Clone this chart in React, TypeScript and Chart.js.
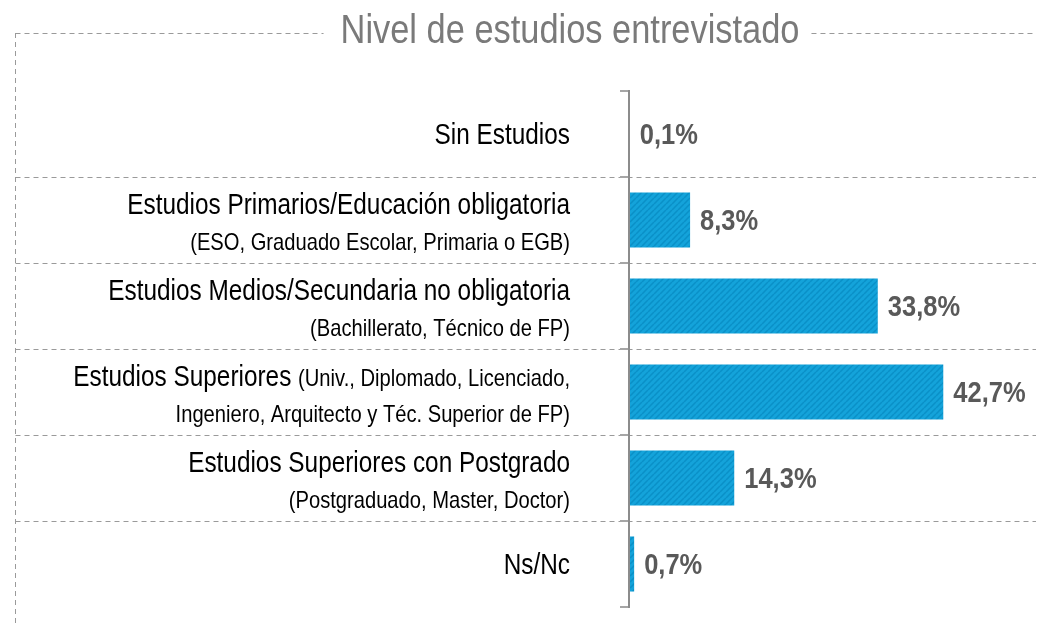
import React, { useEffect, useRef } from "react";
import { Chart, registerables } from "chart.js";

Chart.register(...registerables);

const categories = [
  "Sin Estudios",
  "Estudios Primarios/Educación obligatoria",
  "Estudios Medios/Secundaria no obligatoria",
  "Estudios Superiores",
  "Estudios Superiores con Postgrado",
  "Ns/Nc",
];
// label lines: each line is a list of [text, big?] runs
const labelLines: [string, boolean][][][] = [
  [[["Sin Estudios", true]]],
  [[["Estudios Primarios/Educación obligatoria", true]], [["(ESO, Graduado Escolar, Primaria o EGB)", false]]],
  [[["Estudios Medios/Secundaria no obligatoria", true]], [["(Bachillerato, Técnico de FP)", false]]],
  [
    [["Estudios Superiores ", true], ["(Univ., Diplomado, Licenciado,", false]],
    [["Ingeniero, Arquitecto y Téc. Superior de FP)", false]],
  ],
  [[["Estudios Superiores con Postgrado", true]], [["(Postgraduado, Master, Doctor)", false]]],
  [[["Ns/Nc", true]]],
];
const values = [0.1, 8.3, 33.8, 42.7, 14.3, 0.7];
const valueLabels = ["0,1%", "8,3%", "33,8%", "42,7%", "14,3%", "0,7%"];
const title = "Nivel de estudios entrevistado";

const FONT = '"Liberation Sans", Arial, sans-serif';

function narrowWidth(ctx: CanvasRenderingContext2D, text: string, font: string, sx: number) {
  ctx.font = font;
  return ctx.measureText(text).width * sx;
}

function drawNarrow(
  ctx: CanvasRenderingContext2D,
  text: string,
  x: number,
  y: number,
  align: "left" | "right" | "center",
  font: string,
  sx: number
) {
  const w = narrowWidth(ctx, text, font, sx);
  let lx = x;
  if (align === "right") lx = x - w;
  else if (align === "center") lx = x - w / 2;
  ctx.save();
  ctx.textAlign = "left";
  ctx.textBaseline = "alphabetic";
  ctx.translate(lx, y);
  ctx.scale(sx, 1);
  ctx.fillText(text, 0, 0);
  ctx.restore();
  return w;
}

function makePattern(): CanvasPattern | string {
  const c = document.createElement("canvas");
  c.width = 6;
  c.height = 6;
  const g = c.getContext("2d");
  if (!g) return "#0b9bd3";
  g.fillStyle = "#14a3da";
  g.fillRect(0, 0, 6, 6);
  g.strokeStyle = "#0a90c7";
  g.lineWidth = 1.5;
  g.beginPath();
  for (let k = -6; k <= 12; k += 6) {
    g.moveTo(k, 6);
    g.lineTo(k + 6, 0);
  }
  g.stroke();
  const p = g.createPattern(c, "repeat");
  return p || "#0b9bd3";
}

const decorPlugin = {
  id: "decor",
  beforeDatasetsDraw(chart: any) {
    const ctx: CanvasRenderingContext2D = chart.ctx;
    const { top, bottom, left } = chart.chartArea;
    const y = chart.scales.y;
    const n = categories.length;
    const step = (bottom - top) / n;
    ctx.save();
    // title
    const tFont = `40px ${FONT}`;
    const tSX = 0.86;
    ctx.fillStyle = "#7a7a7a";
    const tx = 570;
    const ty = 33;
    const tw = narrowWidth(ctx, title, tFont, tSX);
    drawNarrow(ctx, title, tx, 43, "center", tFont, tSX);
    ctx.strokeStyle = "#9a9a9a";
    ctx.lineWidth = 1;
    ctx.setLineDash([5, 4]);
    ctx.beginPath();
    ctx.moveTo(15.5, ty + 0.5);
    ctx.lineTo(tx - tw / 2 - 17, ty + 0.5);
    ctx.moveTo(tx + tw / 2 + 12, ty + 0.5);
    ctx.lineTo(1036, ty + 0.5);
    ctx.moveTo(15.5, ty);
    ctx.lineTo(15.5, 625);
    // separators
    for (let i = 1; i < n; i++) {
      const yy = Math.round(top + i * step) + 0.5;
      ctx.moveTo(15.5, yy);
      ctx.lineTo(1036, yy);
    }
    ctx.stroke();
    ctx.setLineDash([]);
    // axis ticks
    ctx.strokeStyle = "#a6a6a6";
    ctx.lineWidth = 2;
    ctx.beginPath();
    for (let i = 0; i <= n; i++) {
      const yy = Math.round(top + i * step);
      ctx.moveTo(620, yy);
      ctx.lineTo(left, yy);
    }
    ctx.stroke();
    // category labels
    ctx.fillStyle = "#000000";
    const rightX = 570;
    for (let i = 0; i < n; i++) {
      const cy = y.getPixelForValue(i);
      const lines = labelLines[i];
      const baselines = lines.length === 1 ? [10] : [-6, 30];
      lines.forEach((runs, li) => {
        let x = rightX;
        for (let r = runs.length - 1; r >= 0; r--) {
          const [txt, big] = runs[r];
          const f = `${big ? 29 : 24}px ${FONT}`;
          const w = drawNarrow(ctx, txt, x, cy + baselines[li], "right", f, 0.84);
          x -= w;
        }
      });
    }
    ctx.restore();
  },
  afterDatasetsDraw(chart: any) {
    const ctx: CanvasRenderingContext2D = chart.ctx;
    const { top, bottom, left } = chart.chartArea;
    const meta = chart.getDatasetMeta(0);
    ctx.save();
    // axis line
    ctx.strokeStyle = "#8c8c8c";
    ctx.lineWidth = 2;
    ctx.beginPath();
    ctx.moveTo(left, top - 1);
    ctx.lineTo(left, bottom + 1);
    ctx.stroke();
    // value labels
    ctx.fillStyle = "#595959";
    meta.data.forEach((bar: any, i: number) => {
      drawNarrow(ctx, valueLabels[i], bar.x + 10, bar.y + 10, "left", `bold 30px ${FONT}`, 0.85);
    });
    ctx.restore();
  },
};

export default function App() {
  const ref = useRef<HTMLCanvasElement>(null);
  useEffect(() => {
    document.body.style.margin = "0";
    const canvas = ref.current;
    if (!canvas) return;
    const chart = new Chart(canvas, {
      type: "bar",
      data: {
        labels: categories,
        datasets: [
          {
            data: values,
            backgroundColor: makePattern() as any,
            borderWidth: 0,
            barPercentage: 0.64,
            categoryPercentage: 1,
          },
        ],
      },
      options: {
        indexAxis: "y",
        responsive: false,
        animation: false,
        layout: { padding: { left: 629, right: 42, top: 91, bottom: 18 } },
        plugins: { legend: { display: false }, tooltip: { enabled: false }, title: { display: false } },
        scales: {
          x: { display: false, min: 0, max: 50 },
          y: { display: false, offset: true, grid: { display: false } },
        },
      },
      plugins: [decorPlugin],
    });
    return () => chart.destroy();
  }, []);
  return <canvas ref={ref} width={1039} height={625} style={{ display: "block" }} />;
}
